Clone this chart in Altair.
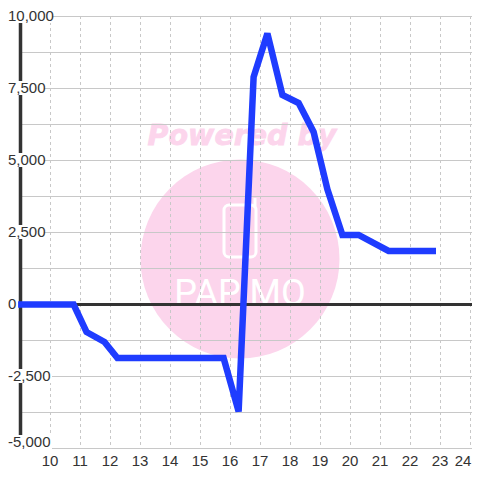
import altair as alt
import pandas as pd

HOURS = [8.92, 10.77, 11.2, 11.8, 12.23, 15.77, 16.27, 16.77, 17.23, 17.73, 18.27, 18.77, 19.23, 19.73, 20.27, 21.27, 22.85]
VALUES = [0, 0, -955, -1300, -1860, -1860, -3715, 7900, 9410, 7274, 6996, 5990, 4000, 2413, 2413, 1858, 1858]
X_TICKS = list(range(10, 25))
Y_GRID = [10000, 8750, 7500, 6250, 5000, 3750, 2500, 1250, 0, -1250, -2500, -3750, -5000]
Y_LABELS = [(10000, "10,000"), (7500, "7,500"), (5000, "5,000"), (2500, "2,500"),
            (0, "0"), (-2500, "-2,500"), (-5000, "-5,000")]

X_SCALE = alt.Scale(domain=[9, 24.0667], nice=False, zero=False)
Y_SCALE = alt.Scale(domain=[-5000, 10000], nice=False, zero=False)
GRID = "#c8c8c8"
INK = "#333333"
PINK = "#fcd5ec"

line_df = pd.DataFrame({"h": HOURS, "v": VALUES})
xt_df = pd.DataFrame({"h": X_TICKS})
yg_df = pd.DataFrame({"v": Y_GRID})
X = alt.X("h:Q", scale=X_SCALE, axis=None)
Y = alt.Y("v:Q", scale=Y_SCALE, axis=None)

layers = []

# watermark
dot = pd.DataFrame({"a": [1]})
layers.append(alt.Chart(dot).mark_point(shape="circle", filled=True, size=39600, color=PINK, opacity=1)
              .encode(x=alt.value(220), y=alt.value(243)))
layers.append(alt.Chart(pd.DataFrame({"t": ["Powered by"]}))
              .mark_text(font="DejaVu Sans", fontWeight="bold", fontStyle="italic", fontSize=28.5,
                         color=PINK, stroke=PINK, strokeWidth=0.8, align="center", baseline="alphabetic")
              .encode(text="t:N", x=alt.value(222), y=alt.value(129)))
layers.append(alt.Chart(dot).mark_rect(fillOpacity=0, stroke="white", strokeWidth=3, cornerRadius=5)
              .encode(x=alt.value(204), x2=alt.value(236), y=alt.value(189), y2=alt.value(241)))
layers.append(alt.Chart(dot).mark_rule(color="white", strokeWidth=3)
              .encode(x=alt.value(235), y=alt.value(182), y2=alt.value(192)))
layers.append(alt.Chart(pd.DataFrame({"t": ["PAPiMO"]}))
              .mark_text(font="Roboto", fontSize=36, color="white",
                         align="center", baseline="alphabetic")
              .encode(text="t:N", x=alt.value(220), y=alt.value(289)))

# grid
layers.append(alt.Chart(yg_df).mark_rule(color=GRID, strokeWidth=1, yOffset=0.5).encode(y=Y))
layers.append(alt.Chart(xt_df).mark_rule(color=GRID, strokeWidth=1, strokeDash=[3, 3], xOffset=0.5).encode(x=X))

# y axis bar and zero line
layers.append(alt.Chart(pd.DataFrame({"h": [9], "v": [10000], "b": [-5000]}))
              .mark_rule(color=INK, strokeWidth=3.5, xOffset=0.5)
              .encode(x=X, y=Y, y2="b:Q"))
layers.append(alt.Chart(pd.DataFrame({"v": [0]})).mark_rule(color=INK, strokeWidth=3, yOffset=0.5).encode(y=Y))

# y labels, each on a white plate
for v, t in Y_LABELS:
    off = -6 if v == -5000 else 0
    w = {6: 46, 5: 38, 1: 8}[len(t)]
    d = pd.DataFrame({"v": [v], "t": [t]})
    layers.append(alt.Chart(d).mark_tick(color="white", opacity=1, thickness=14, size=w, yOffset=off)
                  .encode(y=Y, x=alt.value(-14 + w / 2)))
    layers.append(alt.Chart(d).mark_text(font="Liberation Sans", fontSize=15, color=INK,
                                         align="left", baseline="middle", dy=off)
                  .encode(y=Y, text="t:N", x=alt.value(-12)))

# x labels (the last one is pulled in so the canvas edge does not cut it)
for h in X_TICKS:
    d = pd.DataFrame({"h": [h], "t": [str(h)]})
    layers.append(alt.Chart(d).mark_text(font="Liberation Sans", fontSize=15, color=INK,
                                         align="center", baseline="middle", dx=-7 if h == 24 else 0)
                  .encode(x=X, y=alt.value(445), text="t:N"))

# series
layers.append(alt.Chart(line_df).mark_line(color="#1f3cff", strokeWidth=6.5, strokeJoin="miter",
                                           strokeMiterLimit=2.5, strokeCap="butt", clip=False,
                                           xOffset=0.5, yOffset=0.5)
              .encode(x=X, y=Y))

chart = alt.layer(*layers).properties(
    width=452, height=432, background="white",
    padding={"left": 12, "top": 8, "right": 0, "bottom": 24},
    autosize=alt.AutoSizeParams(type="none"),
).configure_view(stroke=None)

chart.save("out.html", embed_options={"renderer": "svg", "actions": False})
